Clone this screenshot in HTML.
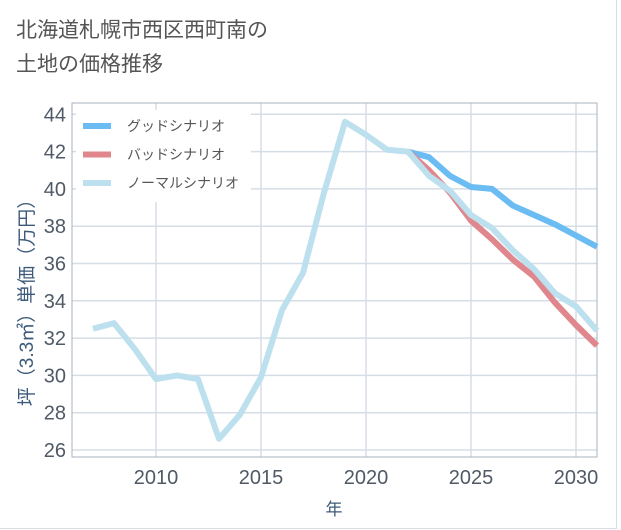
<!DOCTYPE html>
<html><head><meta charset="utf-8"><style>
body{margin:0;background:#fff;}
#card{position:absolute;left:0;top:0;width:616px;height:528px;border-right:1px solid #d8dde3;border-bottom:1px solid #d8dde3;background:#fff;}
#title{position:absolute;left:16px;top:14px;font:21px/34px "Liberation Sans","Noto Sans CJK JP",sans-serif;color:#555;}
svg text{font-family:"Liberation Sans","Noto Sans CJK JP",sans-serif;}
</style></head><body>
<div id="card">
<div id="title">北海道札幌市西区西町南の<br>土地の価格推移</div>
<svg id="chart" width="621" height="530" style="position:absolute;left:0;top:0"></svg>
</div>
<script>
const years=[2007,2008,2009,2010,2011,2012,2013,2014,2015,2016,2017,2018,2019,2020,2021,2022,2023,2024,2025,2026,2027,2028,2029,2030,2031];
const normalVals=[32.5,32.8,31.4,29.8,30.0,29.8,26.6,27.9,29.9,33.5,35.5,39.8,43.6,42.9,42.1,42.0,40.7,39.9,38.6,37.9,36.7,35.7,34.4,33.7,32.4];
const goodYears=[2022,2023,2024,2025,2026,2027,2028,2029,2030,2031];
const goodVals=[42.0,41.7,40.7,40.1,40.0,39.1,38.6,38.1,37.5,36.9];
const badVals=[42.0,41.0,39.8,38.3,37.3,36.2,35.3,33.9,32.7,31.6];
const xTicks=[2010,2015,2020,2025,2030];
const yTicks=[26,28,30,32,34,36,38,40,42,44];
const legendLabels=["グッドシナリオ","バッドシナリオ","ノーマルシナリオ"];
const colors=["#6bbcf2","#e0868d","#bde0ee"];

const svg=document.getElementById('chart');
const NS='http://www.w3.org/2000/svg';
const L=72,R=597,T=103,B=457;
const x=v=>156+(v-2010)*21;
const y=v=>114.3+(44-v)*18.65;
function mk(tag,attrs,parent){const e=document.createElementNS(NS,tag);for(const k in attrs)e.setAttribute(k,attrs[k]);(parent||svg).appendChild(e);return e;}

yTicks.forEach(t=>{
  const g=mk('line',{x1:L,x2:R,y1:y(t),y2:y(t),stroke:'#d5dde6','stroke-width':1.5});
  
  
  const tx=mk('text',{x:L-6,y:y(t)+7,'text-anchor':'end','font-size':20,fill:'#505a66'});
  tx.textContent=t;
  
  
});
xTicks.forEach(t=>{
  const g=mk('line',{x1:x(t),x2:x(t),y1:T,y2:B,stroke:'#d5dde6','stroke-width':1.5});
  
  
  const tx=mk('text',{x:x(t),y:B+27,'text-anchor':'middle','font-size':20,fill:'#505a66'});
  tx.textContent=t;
  
  
});
const frame=mk('rect',{x:L,y:T,width:R-L,height:B-T,fill:'none',stroke:'#a9b3bf','stroke-width':1});



function line(xs,vs,c,name){
  const p=mk('polyline',{points:xs.map((yr,i)=>x(yr)+','+y(vs[i])).join(' '),fill:'none',stroke:c,'stroke-width':6,'stroke-linejoin':'round'});
  
  
}
line(goodYears,goodVals,colors[0],'good-scenario-line');
line(goodYears,badVals,colors[1],'bad-scenario-line');
line(years,normalVals,colors[2],'normal-scenario-line');

const bg=mk('rect',{x:76,y:110,width:175,height:92,fill:'#fff'});


legendLabels.forEach((lab,i)=>{
  const ly=126+i*28.5;
  const s=mk('line',{x1:83,x2:111,y1:ly,y2:ly,stroke:colors[i],'stroke-width':6});
  
  
  const t=mk('text',{x:127,y:ly+5,'font-size':14,fill:'#555'});
  t.textContent=lab;
  
  
});
const yt=mk('text',{transform:'translate(33,298) rotate(-90)','text-anchor':'middle','font-size':19,fill:'#3d5a7a'});
yt.textContent='坪（3.3㎡）単価（万円）';


const xt=mk('text',{x:334,y:515,'text-anchor':'middle','font-size':17,fill:'#3d5a7a'});
xt.textContent='年';


</script>
</body></html>
